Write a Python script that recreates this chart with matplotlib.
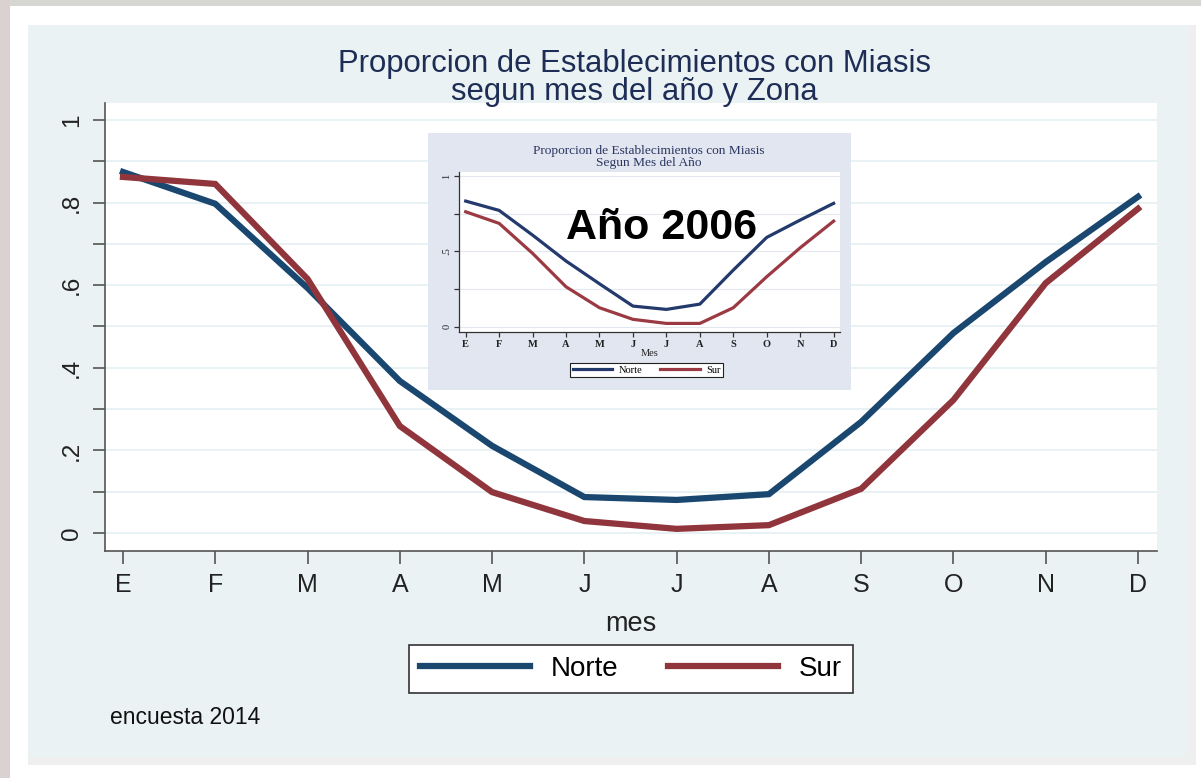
import matplotlib
matplotlib.use("Agg")
import matplotlib.pyplot as plt
from matplotlib.patches import Rectangle

# datos
meses = ["E", "F", "M", "A", "M", "J", "J", "A", "S", "O", "N", "D"]
norte_2014 = [0.874, 0.797, 0.593, 0.368, 0.211, 0.087, 0.080, 0.094, 0.269, 0.484, 0.656, 0.814]
sur_2014 = [0.862, 0.845, 0.615, 0.259, 0.099, 0.029, 0.010, 0.019, 0.107, 0.322, 0.605, 0.785]
norte_2006 = [0.834, 0.772, 0.608, 0.436, 0.285, 0.137, 0.115, 0.150, 0.376, 0.593, 0.708, 0.819]
sur_2006 = [0.763, 0.686, 0.487, 0.265, 0.126, 0.049, 0.022, 0.022, 0.126, 0.332, 0.524, 0.701]

W, H = 1201, 778
fig = plt.figure(figsize=(W / 100, H / 100), dpi=100, facecolor="white")

def px_rect(x0, y0, x1, y1, color, z=-1):
    fig.patches.append(Rectangle((x0 / W, 1 - y1 / H), (x1 - x0) / W, (y1 - y0) / H,
                                 transform=fig.transFigure, facecolor=color,
                                 edgecolor="none", zorder=z))

# marcos de la diapositiva
px_rect(0, 0, W, 6, "#d6d6d2")
px_rect(0, 0, 10, H, "#d9d2d0")
px_rect(1187, 25, 1196, 765, "#efefef")
px_rect(28, 757, 1187, 765, "#efefef")
px_rect(28, 25, 1187, 757, "#eaf2f3")

navy = "#1a476f"
maroon = "#90353b"
sans = "Liberation Sans"
serif = "Liberation Serif"

# grafico principal
ax = fig.add_axes([105 / W, 1 - 551 / H, (1157 - 105) / W, (551 - 103) / H], zorder=1)
ax.set_facecolor("white")
x = range(len(meses))
ax.plot(x, norte_2014, color=navy, lw=4.5, label="Norte", solid_joinstyle="miter")
ax.plot(x, sur_2014, color=maroon, lw=4.5, label="Sur", solid_joinstyle="miter")
ax.set_xlim(-0.195, 11.206)
ax.set_ylim(-0.0436, 1.041)
ax.set_xticks(list(x))
ax.set_xticklabels(meses, fontsize=18, family=sans, color="#222222")
yt = [i / 10 for i in range(11)]
ax.set_yticks(yt)
ax.set_yticklabels(["0", "", ".2", "", ".4", "", ".6", "", ".8", "", "1"],
                   fontsize=17.5, family=sans, rotation=90, va="center", color="#222222")
ax.grid(axis="y", color="#e4eff2", lw=1.2)
ax.set_axisbelow(True)
for s in ["top", "right"]:
    ax.spines[s].set_visible(False)
for s in ["left", "bottom"]:
    ax.spines[s].set_color("#555555")
    ax.spines[s].set_linewidth(1.2)
ax.tick_params(length=9, width=1.2, color="#555555", pad=7)
ax.set_xlabel("mes", fontsize=19.5, family=sans, color="#222222", labelpad=10)

fig.text(634 / W, 1 - 78 / H, "Proporcion de Establecimientos con Miasis\nsegun mes del año y Zona",
         ha="center", va="center", fontsize=22.4, family=sans, color="#1e2d55",
         linespacing=0.92)

leg = ax.legend(loc="center", bbox_to_anchor=(631 / W, 1 - 669 / H),
                bbox_transform=fig.transFigure, ncol=2, frameon=True, fancybox=False,
                prop={"family": sans, "size": 20}, handlelength=3.95, handletextpad=0.75,
                columnspacing=1.8, borderpad=0.4)
leg.get_frame().set_edgecolor("#333333")
leg.get_frame().set_linewidth(1.2)
leg.get_frame().set_facecolor("white")
leg.get_frame().set_alpha(1)

fig.text(110 / W, 1 - 718 / H, "encuesta 2014", fontsize=16.5, family=sans,
         color="#111111", va="center")

# recuadro 2006
px_rect(428, 133, 851, 390, "#e1e6f0", z=2)
ax2 = fig.add_axes([459 / W, 1 - 332 / H, (840 - 459) / W, (332 - 172) / H], zorder=3)
ax2.set_facecolor("white")
ax2.plot(x, norte_2006, color="#24396c", lw=2.3, label="Norte")
ax2.plot(x, sur_2006, color="#9b3a43", lw=2.3, label="Sur")
ax2.set_xlim(-0.2, 11.19)
ax2.set_ylim(-0.035, 1.027)
ax2.set_xticks(list(x))
ax2.set_xticklabels(meses, fontsize=7.5, family=serif, fontweight="bold", color="#222222")
ax2.set_yticks([0, 0.25, 0.5, 0.75, 1])
ax2.set_yticklabels(["0", "", ".5", "", "1"], fontsize=7.5, family=serif,
                    rotation=90, va="center", color="#222222")
ax2.grid(axis="y", color="#e3e7ef", lw=0.8)
ax2.set_axisbelow(True)
for s in ["top", "right"]:
    ax2.spines[s].set_visible(False)
for s in ["left", "bottom"]:
    ax2.spines[s].set_color("#333333")
    ax2.spines[s].set_linewidth(0.9)
ax2.tick_params(length=3.5, width=0.9, color="#333333", pad=2)
ax2.set_xlabel("Mes", fontsize=7.5, family=serif, color="#222222", labelpad=0.5)
fig.text(649 / W, 1 - 157 / H, "Proporcion de Establecimientos con Miasis\nSegun Mes del Año",
         ha="center", va="center", fontsize=9.6, family=serif, color="#2a3560",
         linespacing=0.92, zorder=4)
leg2 = ax2.legend(loc="center", bbox_to_anchor=(646.5 / W, 1 - 370 / H),
                  bbox_transform=fig.transFigure, ncol=2, frameon=True, fancybox=False,
                  prop={"family": serif, "size": 7.5}, handlelength=3.8, handletextpad=0.6,
                  columnspacing=1.7, borderpad=0.25)
leg2.get_frame().set_edgecolor("#222222")
leg2.get_frame().set_linewidth(0.8)
leg2.get_frame().set_facecolor("white")
leg2.get_frame().set_alpha(1)

fig.text(662 / W, 1 - 228 / H, "Año 2006", fontsize=31, family=sans, fontweight="bold",
         color="black", ha="center", va="center", zorder=10)

fig.savefig("out.png", dpi=100, facecolor=fig.get_facecolor())
